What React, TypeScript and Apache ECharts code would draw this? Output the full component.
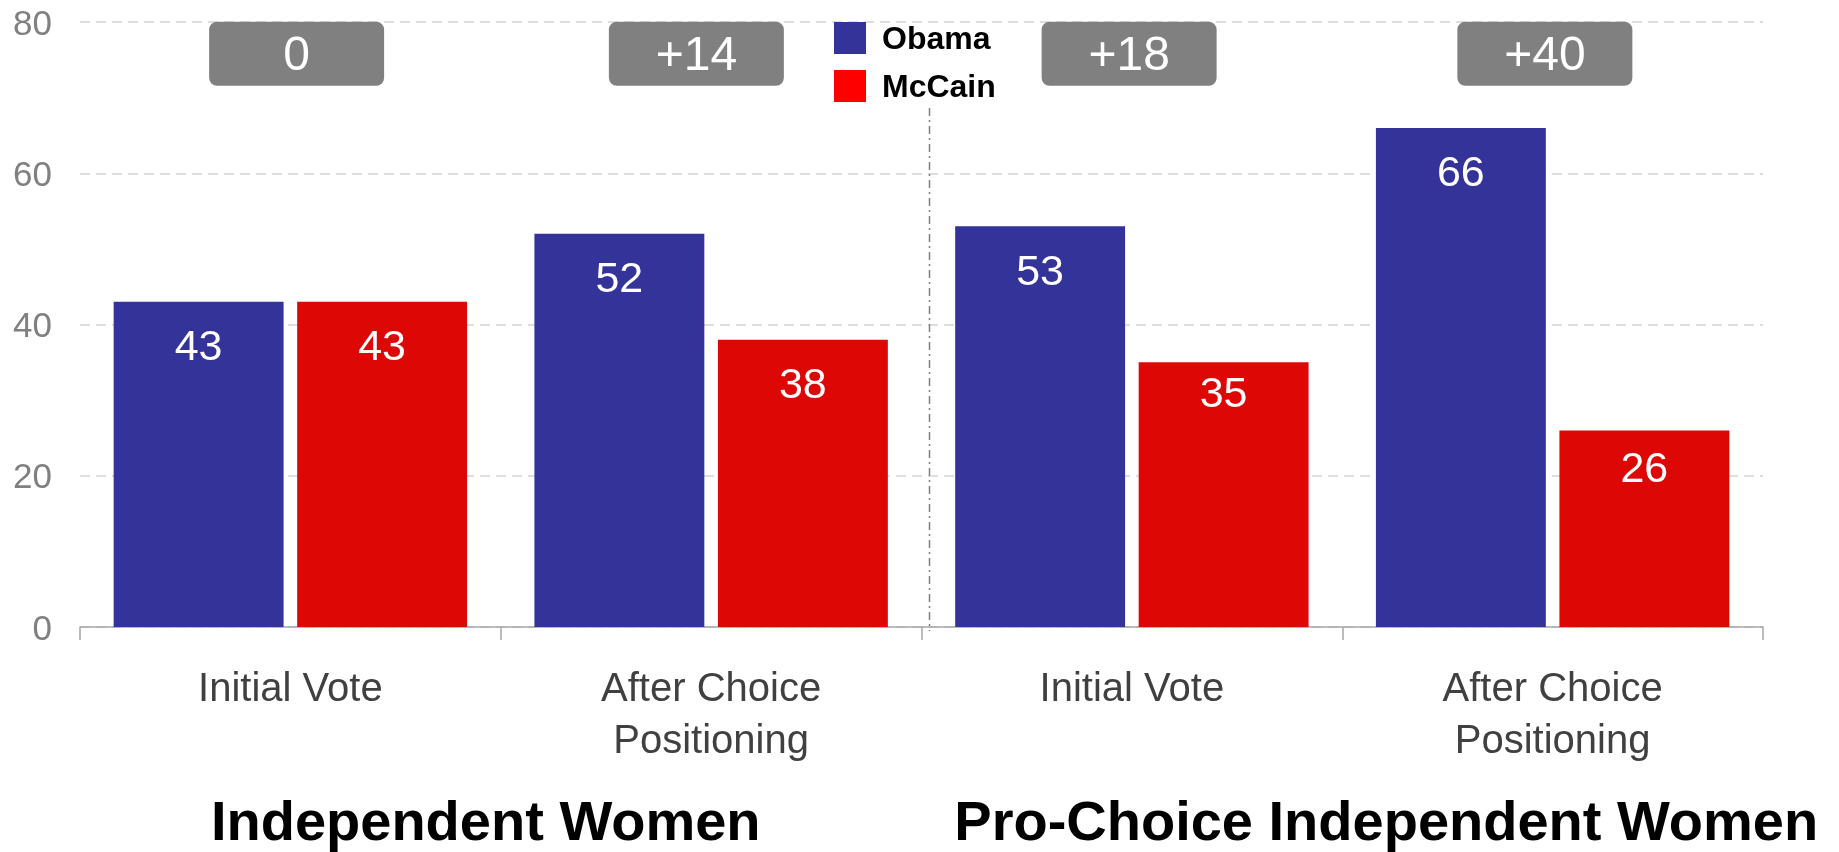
import React, { useEffect, useRef } from "react";
import * as echarts from "echarts";

const categories = ["Initial Vote", "After Choice\nPositioning", "Initial Vote", "After Choice\nPositioning"];
const obamaValues = [43, 52, 53, 66];
const mccainValues = [43, 38, 35, 26];
const seriesNames = ["Obama", "McCain"];
const groupTitles = ["Independent Women", "Pro-Choice Independent Women"];
const yMin = 0;
const yMax = 80;
const yInterval = 20;

const FONT = "'Liberation Sans', Arial, Helvetica, sans-serif";
const OBAMA_COLOR = "#333399";
const MCCAIN_COLOR = "#DD0806";
const BADGE_Y = 75.8;
const badgeOffsets = [98, 77, 89, 84];
const mccainLabelDistance = [22, 22, 8, 15];
const badgePath =
  "path://M8,0 H167 A8,8 0 0 1 175,8 V56 A8,8 0 0 1 167,64 H8 A8,8 0 0 1 0,56 V8 A8,8 0 0 1 8,0 Z";

const margins = obamaValues.map((v, i) => {
  const d = v - mccainValues[i];
  return d > 0 ? "+" + d : String(d);
});

export default function App() {
  const ref = useRef<HTMLDivElement>(null);
  useEffect(() => {
    document.body.style.margin = "0";
    const chart = echarts.init(ref.current!, null, { renderer: "svg" });
    const barLabel = {
      show: true,
      position: "insideTop",
      distance: 22,
      color: "#ffffff",
      fontSize: 43,
      fontFamily: FONT,
    };
    chart.setOption({
      animation: false,
      textStyle: { fontFamily: FONT },
      grid: { left: 80, right: 76, top: 22, bottom: 225, containLabel: false },
      legend: {
        orient: "vertical",
        left: 829,
        top: 17,
        itemWidth: 32,
        itemHeight: 32,
        itemGap: 16,
        icon: "rect",
        selectedMode: false,
        z: 20,
        textStyle: { fontSize: 32, fontWeight: "bold", color: "#000", fontFamily: FONT, padding: [0, 0, 0, 11] },
        data: [
          { name: seriesNames[0], itemStyle: { color: OBAMA_COLOR } },
          { name: seriesNames[1], itemStyle: { color: "#FF0000" } },
        ],
      },
      xAxis: {
        type: "category",
        data: categories,
        axisLine: { show: true, lineStyle: { color: "#a6a6a6", width: 1.5 } },
        axisTick: { show: true, length: 13, lineStyle: { color: "#a6a6a6", width: 1.5 } },
        axisLabel: {
          interval: 0,
          fontSize: 40,
          lineHeight: 52,
          color: "#404040",
          margin: 34,
          fontFamily: FONT,
        },
        splitLine: { show: false },
      },
      yAxis: {
        type: "value",
        min: yMin,
        max: yMax,
        interval: yInterval,
        axisLine: { show: false },
        axisTick: { show: false },
        axisLabel: { fontSize: 35, color: "#808080", margin: 28, fontFamily: FONT },
        splitLine: { show: true, lineStyle: { color: "#d4d4d4", type: [10, 6], width: 1.5 } },
      },
      series: [
        {
          name: seriesNames[0],
          type: "bar",
          data: obamaValues,
          barGap: "8%",
          barCategoryGap: "16%",
          itemStyle: { color: OBAMA_COLOR },
          label: barLabel,
          markPoint: {
            symbol: badgePath,
            symbolSize: [175, 64],
            symbolKeepAspect: false,
            itemStyle: { color: "#808080" },
            label: {
              show: true,
              position: "inside",
              color: "#ffffff",
              fontSize: 48,
              fontFamily: FONT,
              formatter: (p: any) => p.name,
            },
            data: margins.map((m, i) => ({
              name: m,
              coord: [i, BADGE_Y],
              symbolOffset: [badgeOffsets[i], 0],
            })),
          },
        },
        {
          name: seriesNames[1],
          type: "bar",
          data: mccainValues.map((v, i) => ({ value: v, label: { distance: mccainLabelDistance[i] } })),
          barGap: "8%",
          barCategoryGap: "16%",
          itemStyle: { color: MCCAIN_COLOR },
          label: barLabel,
        },
      ],
    });

    const c0 = chart.convertToPixel({ xAxisIndex: 0 }, 0) as number;
    const c1 = chart.convertToPixel({ xAxisIndex: 0 }, 1) as number;
    const c2 = chart.convertToPixel({ xAxisIndex: 0 }, 2) as number;
    const c3 = chart.convertToPixel({ xAxisIndex: 0 }, 3) as number;
    const boundary = (c1 + c2) / 2 + 8;
    const yBase = chart.convertToPixel({ yAxisIndex: 0 }, 0) as number;
    const leftCenter = (c0 + c1) / 2 - 15;
    const rightCenter = (c2 + c3) / 2 + 44;
    const titleStyle = {
      fontSize: 56,
      lineHeight: 46,
      fontWeight: "bold",
      fontFamily: FONT,
      fill: "#000",
      textAlign: "center",
      textVerticalAlign: "middle",
    };
    chart.setOption({
      graphic: [
        {
          type: "line",
          shape: { x1: boundary, y1: 108, x2: boundary, y2: yBase + 4 },
          style: { stroke: "#808080", lineWidth: 1.5, lineDash: [8, 4, 2, 4] },
          z: 10,
        },
        { type: "text", x: leftCenter, y: 820, style: { ...titleStyle, text: groupTitles[0] } },
        { type: "text", x: rightCenter, y: 820, style: { ...titleStyle, text: groupTitles[1] } },
      ],
    });
    return () => chart.dispose();
  }, []);
  return <div ref={ref} style={{ position: "fixed", left: 0, top: 0, width: 1839, height: 852 }} />;
}
